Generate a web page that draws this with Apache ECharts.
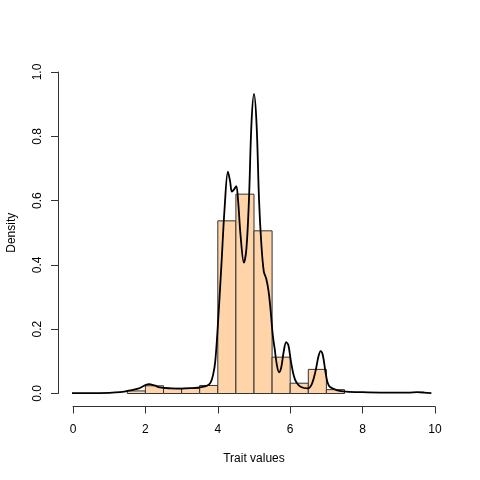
<!DOCTYPE html>
<html>
<head>
<meta charset="utf-8">
<script src="https://cdn.jsdelivr.net/npm/echarts@6/dist/echarts.min.js"></script>
<style>
html,body{margin:0;padding:0;background:#fff;}
#c{width:480px;height:480px;}
</style>
</head>
<body>
<div id="c"></div>
<script>
// Histogram bins (density scale)
const binLeft  = [1.5, 2.0, 2.5, 3.0, 3.5, 4.0, 4.5, 5.0, 5.5, 6.0, 6.5, 7.0];
const binRight = [2.0, 2.5, 3.0, 3.5, 4.0, 4.5, 5.0, 5.5, 6.0, 6.5, 7.0, 7.5];
const binDensity = [0.008, 0.024, 0.016, 0.016, 0.025, 0.537, 0.620, 0.506, 0.113, 0.032, 0.075, 0.012];

// Kernel density curve
const curveX = [-0.09, 0.5, 1.0, 1.3, 1.5, 1.8, 2.0, 2.1, 2.25, 2.4, 2.7, 3.0, 3.3, 3.55, 3.7, 3.8, 3.87, 3.93, 4.0, 4.1, 4.19, 4.28, 4.34, 4.39, 4.45, 4.51, 4.56, 4.63, 4.72, 4.79, 4.86, 4.93, 5.0, 5.07, 5.14, 5.2, 5.27, 5.34, 5.4, 5.45, 5.52, 5.57, 5.63, 5.69, 5.75, 5.82, 5.89, 5.95, 6.02, 6.1, 6.17, 6.3, 6.49, 6.6, 6.7, 6.78, 6.84, 6.9, 6.97, 7.03, 7.1, 7.3, 7.55, 8.0, 8.5, 9.0, 9.3, 9.5, 9.7, 9.9];
const curveY = [0.001, 0.001, 0.002, 0.004, 0.008, 0.015, 0.026, 0.029, 0.025, 0.019, 0.016, 0.015, 0.017, 0.020, 0.024, 0.034, 0.058, 0.10, 0.21, 0.40, 0.58, 0.69, 0.66, 0.628, 0.635, 0.645, 0.60, 0.49, 0.407, 0.45, 0.60, 0.84, 0.932, 0.84, 0.60, 0.47, 0.38, 0.356, 0.32, 0.27, 0.18, 0.14, 0.09, 0.066, 0.08, 0.13, 0.16, 0.15, 0.10, 0.055, 0.035, 0.02, 0.016, 0.03, 0.07, 0.115, 0.132, 0.12, 0.07, 0.035, 0.02, 0.01, 0.006, 0.004, 0.003, 0.003, 0.003, 0.004, 0.003, 0.001];

const xTicks = [0, 2, 4, 6, 8, 10];
const yTicks = [0.0, 0.2, 0.4, 0.6, 0.8, 1.0];
const xTitle = 'Trait values';
const yTitle = 'Density';

const histData = binLeft.map((l, i) => [l, binRight[i], binDensity[i]]);
const curveData = curveX.map((x, i) => [x, curveY[i]]);

const font = 'Liberation Sans, Arial, Helvetica, sans-serif';
const chart = echarts.init(document.getElementById('c'), null, {renderer: 'canvas'});
chart.setOption({
  backgroundColor: '#ffffff',
  animation: false,
  grid: {left: 73, right: 45, top: 72, bottom: 86.5, containLabel: false, outerBoundsMode: 'none'},
  xAxis: {
    type: 'value', min: xTicks[0], max: xTicks[xTicks.length - 1], interval: 2,
    offset: 13,
    name: xTitle, nameLocation: 'middle', nameGap: 46,
    nameTextStyle: {fontFamily: font, fontSize: 12, color: '#000'},
    axisLine: {show: true, onZero: false, lineStyle: {color: '#333', width: 1}},
    axisTick: {show: true, length: 7, lineStyle: {color: '#333'}},
    axisLabel: {fontFamily: font, fontSize: 12, color: '#000', margin: 17},
    splitLine: {show: false}
  },
  yAxis: {
    type: 'value', min: yTicks[0], max: yTicks[yTicks.length - 1], interval: 0.2,
    offset: 15,
    name: yTitle, nameLocation: 'middle', nameGap: 40, nameRotate: 90,
    nameTextStyle: {fontFamily: font, fontSize: 12, color: '#000'},
    axisLine: {show: true, onZero: false, lineStyle: {color: '#333', width: 1}},
    axisTick: {show: true, length: 7, lineStyle: {color: '#333'}},
    axisLabel: {fontFamily: font, fontSize: 12, color: '#000', rotate: 90, margin: 14,
      formatter: v => v.toFixed(1)},
    splitLine: {show: false}
  },
  series: [
    {
      type: 'custom',
      data: histData,
      encode: {x: [0, 1], y: 2},
      clip: false,
      renderItem: function (params, api) {
        const p0 = api.coord([api.value(0), 0]);
        const p1 = api.coord([api.value(1), api.value(2)]);
        return {
          type: 'rect',
          shape: {x: p0[0], y: p1[1], width: p1[0] - p0[0], height: p0[1] - p1[1]},
          style: {fill: '#FFD4A8', stroke: '#333', lineWidth: 1}
        };
      }
    },
    {
      type: 'line',
      data: curveData,
      showSymbol: false,
      smooth: 0.35,
      clip: false,
      lineStyle: {color: '#000', width: 1.8},
      z: 5
    }
  ]
});
</script>
</body>
</html>
